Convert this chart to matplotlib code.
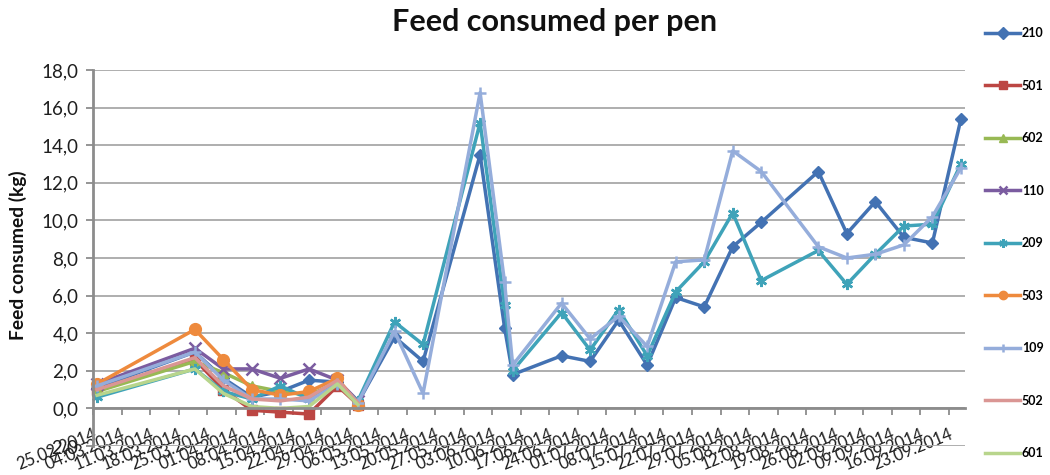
import matplotlib
matplotlib.use('Agg')
import matplotlib.pyplot as plt
from matplotlib.ticker import FuncFormatter, MultipleLocator
import numpy as np
import pandas as pd

plt.rcParams['font.family'] = ['Lato', 'DejaVu Sans']

# ---- data ----
dates = ['2014-02-26', '2014-03-22', '2014-03-29', '2014-04-05', '2014-04-12',
         '2014-04-19', '2014-04-26', '2014-05-01', '2014-05-10', '2014-05-17',
         '2014-05-31', '2014-06-06', '2014-06-08', '2014-06-20', '2014-06-27',
         '2014-07-04', '2014-07-11', '2014-07-18', '2014-07-25', '2014-08-01',
         '2014-08-08', '2014-08-22', '2014-08-29', '2014-09-05', '2014-09-12',
         '2014-09-19', '2014-09-26']

s210 = [1.1, 3.0, 1.6, 0.6, 0.9, 1.5, 1.4, 0.3, 3.8, 2.5, 13.5, 4.3, 1.8, 2.8,
        2.5, 4.7, 2.3, 5.9, 5.4, 8.6, 9.9, 12.6, 9.3, 11.0, 9.1, 8.8, 15.4]
s501 = [1.0, 2.6, 1.0, -0.1, -0.2, -0.3, 1.2, 0.2]
s602 = [0.9, 2.5, 1.9, 1.2, 0.9, 0.7, 1.4, 0.3]
s110 = [1.3, 3.2, 2.1, 2.1, 1.6, 2.1, 1.5, 0.4]
s209 = [0.6, 2.1, 0.9, 0.5, 1.2, 0.5, 1.3, 0.4, 4.6, 3.4, 15.2, 5.5, 2.0, 5.1,
        3.1, 5.25, 2.8, 6.2, 7.8, 10.4, 6.8, 8.4, 6.6, 8.2, 9.7, 9.8, 13.0]
s503 = [1.3, 4.2, 2.6, 1.0, 0.7, 0.9, 1.6, 0.2]
s109 = [1.2, 3.0, 1.5, 0.5, 0.5, 0.4, 1.3, 0.3, 4.1, 0.8, 16.8, 6.7, 2.3, 5.6,
        3.7, 4.9, 3.3, 7.8, 7.9, 13.7, 12.6, 8.6, 8.0, 8.2, 8.7, 10.2, 12.8]
s502 = [1.0, 2.7, 1.2, 0.5, 0.4, 0.6, 1.5, 0.3]
s601 = [0.7, 2.1, 0.8, 0.1, 0.0, 0.1, 1.3, 0.2]

series_names = ['210', '501', '602', '110', '209', '503', '109', '502', '601']
series_values = [s210, s501, s602, s110, s209, s503, s109, s502, s601]

tick_start = '2014-02-25'
tick_end = '2014-09-23'
x_max = '2014-09-27'

# ---- styles ----
colors = ['#4372B3', '#BC4643', '#98B954', '#7B5CA0', '#3FA3B9', '#EE8A3D',
          '#95ADDB', '#DA9694', '#B8D58C']
markers = ['D', 's', '^', 'x', (6, 2, 0), 'o', '+', None, None]
msizes = [6.5, 6.5, 6.5, 8, 8, 8.5, 9, 0, 0]

fig = plt.figure(figsize=(10.5, 4.75), dpi=100)
ax = fig.add_axes([93 / 1050, 1 - 446 / 475, (965 - 93) / 1050, (446 - 70) / 475])

# spine position first (it resets ticks)
for s in ('top', 'right'):
    ax.spines[s].set_visible(False)
ax.spines['bottom'].set_position(('data', 0))
for s in ('left', 'bottom'):
    ax.spines[s].set_color('#8C8C8C')
    ax.spines[s].set_linewidth(2)

x = pd.to_datetime(dates)
for name, vals, c, m, ms in zip(series_names, series_values, colors, markers, msizes):
    y = np.full(len(x), np.nan)
    y[:len(vals)] = vals
    ax.plot(x, y, color=c, lw=2.5, marker=m, markersize=ms,
            markeredgewidth=1.8 if m in ('x', '+', (6, 2, 0)) else 1.0,
            markeredgecolor=c, markerfacecolor=c, label=name,
            solid_joinstyle='round', clip_on=False)

ax.set_ylim(-2, 18)
ax.yaxis.set_major_locator(MultipleLocator(2))
ax.yaxis.set_major_formatter(FuncFormatter(lambda v, p: f'{v:.1f}'.replace('.', ',')))
ax.set_xlim(pd.Timestamp(tick_start), pd.Timestamp(x_max))
ticks = pd.date_range(tick_start, tick_end, freq='7D')
ax.set_xticks(ticks)
ax.set_xticklabels([t.strftime('%d.%m.%Y') for t in ticks])

ax.grid(axis='y', color='#A8A8A8', lw=1.3)
ax.set_axisbelow(True)
ax.tick_params(axis='both', colors='#8C8C8C', length=5, width=1.3, direction='out')
ax.tick_params(axis='y', labelcolor='#1E1E1E', labelsize=13.5, pad=5.5)
ax.tick_params(axis='x', labelcolor='#1E1E1E', pad=7.5, labelsize=12)
for lbl in ax.get_xticklabels():
    lbl.set_rotation(22)
    lbl.set_ha('right')
    lbl.set_va('top')
    lbl.set_rotation_mode('anchor')

fig.text(555 / 1050, 1 - 22 / 475, 'Feed consumed per pen', ha='center', va='center',
         fontsize=22, fontweight='bold', color='#111111')
fig.text(18 / 1050, 1 - 255 / 475, 'Feed consumed (kg)', ha='center', va='center',
         rotation=90, fontsize=13.8, fontweight='bold', color='#111111')

leg = fig.legend(loc='upper left', bbox_to_anchor=(980 / 1050, 1 - 22 / 475),
                 frameon=False, handlelength=2.8, handletextpad=0.15,
                 labelspacing=3.24, numpoints=1, borderaxespad=0,
                 prop={'size': 9, 'weight': 'bold'})
for h in leg.legend_handles:
    h.set_markersize(6)

fig.savefig('out.png', dpi=100)
